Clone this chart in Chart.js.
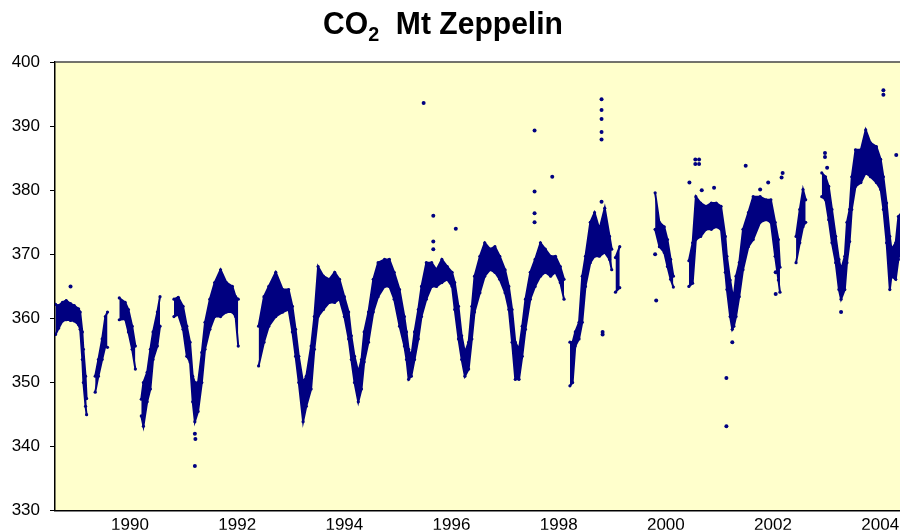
<!DOCTYPE html>
<html>
<head>
<meta charset="utf-8">
<script src="https://cdn.jsdelivr.net/npm/chart.js@4/dist/chart.umd.min.js"></script>
<style>
    body { margin: 0; background: #fff; }
    #cadre { position: relative; width: 900px; height: 531px; }
    #titre {
        position: absolute; left: 0; top: 5px; width: 886px; text-align: center;
        font: bold 32px "Liberation Sans", Arial, sans-serif; color: #000;
        transform: scaleX(0.94); transform-origin: 443px 0;
    }
    #titre sub { font-size: 21px; vertical-align: -7px; line-height: 0; }
</style>
</head>
<body>
<div id="cadre">
    <canvas id="graphique-co2" width="900" height="531"></canvas>
    <div id="titre">CO<sub>2</sub>&nbsp;&nbsp;Mt Zeppelin</div>
</div>
<script>
// Lecture de la bande de mesures : pour chaque date, le bas et le haut du nuage de points (ppm)
// null = trou dans les mesures
const annees = [
    1988.61, 1988.67, 1988.74, 1988.81, 1988.89, 1988.96, 1989.04, 1989.07, 1989.11, 1989.13, 1989.17, 1989.19,
    1989.26,
    1989.35, 1989.41, 1989.48, 1989.54, 1989.58,
    1989.70,
    1989.80, 1989.91, 1989.97, 1990.04, 1990.10,
    1990.15,
    1990.21, 1990.25, 1990.32, 1990.38, 1990.43, 1990.51, 1990.56,
    1990.69,
    1990.82, 1990.90, 1990.99, 1991.06, 1991.12, 1991.17, 1991.21, 1991.27, 1991.34, 1991.40, 1991.49, 1991.58,
    1991.69, 1991.80, 1991.91, 1991.97, 1992.02,
    1992.20,
    1992.40, 1992.50, 1992.59, 1992.72, 1992.85, 1992.96, 1993.03, 1993.09, 1993.15, 1993.23, 1993.29, 1993.38,
    1993.44, 1993.51, 1993.61, 1993.72, 1993.82, 1993.91, 1994.00, 1994.08, 1994.13, 1994.19, 1994.26, 1994.32,
    1994.37, 1994.45, 1994.54, 1994.63, 1994.75, 1994.84, 1994.93, 1995.03, 1995.12, 1995.16, 1995.20, 1995.25,
    1995.31, 1995.38, 1995.44, 1995.53, 1995.63, 1995.72, 1995.82, 1995.92, 1996.01, 1996.06, 1996.13, 1996.19,
    1996.25, 1996.32, 1996.38, 1996.43, 1996.53, 1996.62, 1996.72, 1996.81, 1996.90, 1997.00, 1997.07, 1997.13,
    1997.19, 1997.26, 1997.32, 1997.38, 1997.47, 1997.56, 1997.66, 1997.75, 1997.85, 1997.94, 1998.03, 1998.10,
    1998.14,
    1998.21, 1998.26, 1998.31, 1998.38, 1998.44, 1998.50, 1998.59, 1998.67, 1998.76, 1998.86, 1998.95, 1998.99,
    1999.02,
    1999.06, 1999.14,
    1999.45,
    1999.80, 1999.88, 1999.97, 2000.03, 2000.09, 2000.14,
    2000.29,
    2000.43, 2000.50, 2000.56, 2000.65, 2000.75, 2000.85, 2000.94, 2001.03, 2001.11, 2001.14, 2001.20, 2001.24,
    2001.27, 2001.31, 2001.37, 2001.44, 2001.54, 2001.63, 2001.76, 2001.87, 2001.96, 2002.04, 2002.10, 2002.13,
    2002.25,
    2002.43, 2002.50, 2002.56, 2002.61,
    2002.75,
    2002.91, 2002.98, 2003.04, 2003.10, 2003.17, 2003.23, 2003.27, 2003.34, 2003.38, 2003.43, 2003.47, 2003.54,
    2003.64, 2003.73, 2003.82, 2003.93, 2004.01, 2004.06, 2004.12, 2004.18, 2004.21, 2004.29, 2004.34, 2004.40
];

const co2Bas = [
    357.5, 358.5, 359.6, 359.8, 359.7, 359.6, 359.0, 358.3, 353.6, 350.0, 346.3, 345.0,
    null,
    348.5, 351.0, 353.6, 355.7, 355.5,
    null,
    359.8, 359.9, 357.9, 355.2, 352.1,
    null,
    344.8, 343.2, 347.0, 349.0, 353.6, 355.7, 358.8,
    null,
    360.3, 360.6, 358.3, 354.1, 353.2, 347.0, 343.9, 345.5, 350.0, 355.2, 358.3, 360.3,
    360.3, 361.0, 361.0, 360.3, 355.7,
    null,
    352.6, 356.3, 358.8, 360.3, 361.0, 361.4, 357.9, 354.1, 350.0, 343.9, 346.3, 349.0,
    355.2, 360.3, 361.4, 362.5, 362.5, 363.0, 360.3, 356.8, 353.6, 350.0, 347.0, 349.0,
    353.2, 356.3, 361.0, 363.4, 365.0, 365.0, 363.0, 358.8, 355.7, 353.6, 350.5, 351.0,
    353.6, 356.8, 360.3, 363.0, 365.0, 365.0, 365.6, 366.1, 365.0, 361.4, 356.8, 353.6,
    351.0, 352.1, 356.8, 361.0, 364.0, 366.6, 367.6, 367.2, 366.1, 364.0, 361.4, 356.3,
    350.5, 350.5, 354.1, 358.3, 363.0, 365.0, 366.6, 367.2, 366.6, 367.2, 365.6, 363.0,
    null,
    349.5, 350.0, 355.7, 356.8, 359.4, 365.0, 368.7, 369.7, 369.7, 370.3, 369.2, 367.6,
    null,
    364.1, 364.8,
    null,
    373.9, 371.2, 370.3, 368.1, 366.1, 364.9,
    null,
    365.0, 365.5, 372.3, 372.8, 373.9, 373.9, 374.3, 373.9, 367.2, 364.5, 360.3, 358.3,
    358.8, 360.3, 363.4, 367.6, 371.2, 372.3, 375.0, 375.4, 375.0, 369.7, 366.0, 364.1,
    null,
    368.7, 371.8, 374.3, 375.0,
    null,
    379.0, 378.5, 375.4, 371.8, 368.7, 364.5, 363.0, 364.5, 368.7, 372.0, 377.0, 380.6,
    381.2, 382.7, 382.1, 381.2, 380.1, 377.0, 371.8, 364.5, 366.6, 366.1, 369.2, 371.8
];

const co2Haut = [
    362.2, 362.0, 362.5, 362.8, 362.3, 362.0, 361.5, 361.0, 357.9, 355.2, 351.0, 347.5,
    null,
    351.0, 353.6, 356.8, 360.3, 361.0,
    null,
    363.2, 362.5, 361.4, 358.8, 355.7,
    null,
    347.4, 350.0, 351.6, 355.2, 357.9, 361.0, 363.4,
    null,
    363.0, 363.3, 361.9, 358.8, 356.3, 351.0, 350.0, 350.0, 354.7, 359.4, 363.0, 365.6,
    367.6, 365.6, 365.0, 363.4, 363.0,
    null,
    358.8, 363.4, 365.0, 367.2, 364.5, 364.5, 361.9, 358.3, 354.1, 350.0, 351.0, 355.7,
    360.3, 368.1, 366.6, 366.1, 367.2, 366.1, 363.4, 361.0, 357.3, 354.1, 351.6, 353.6,
    357.9, 361.0, 366.1, 368.7, 369.2, 369.2, 367.2, 364.5, 360.3, 357.9, 355.2, 354.1,
    357.9, 361.4, 365.0, 368.7, 368.7, 367.6, 369.2, 368.1, 367.2, 365.6, 361.9, 357.3,
    354.7, 356.3, 361.9, 366.6, 369.7, 371.8, 370.8, 371.2, 369.7, 367.6, 365.0, 361.4,
    356.3, 355.2, 358.8, 363.0, 367.2, 369.2, 371.8, 370.8, 369.7, 369.7, 368.1, 366.1,
    null,
    356.3, 356.3, 357.9, 359.4, 366.6, 369.7, 375.0, 376.5, 373.9, 377.2, 372.8, 370.8,
    null,
    369.5, 371.2,
    null,
    379.6, 375.0, 374.3, 372.3, 369.2, 366.6,
    null,
    369.0, 371.8, 379.0, 378.0, 377.5, 378.0, 378.0, 377.5, 372.8, 369.7, 366.0, 364.0,
    363.5, 366.6, 368.7, 373.9, 376.5, 379.0, 379.0, 378.5, 378.5, 375.0, 372.3, 368.0,
    null,
    372.8, 377.0, 380.1, 378.5,
    null,
    382.7, 382.1, 380.6, 377.0, 372.8, 369.2, 367.6, 369.7, 375.0, 377.0, 382.1, 386.3,
    386.3, 389.4, 387.4, 386.8, 384.8, 382.1, 378.0, 372.8, 370.8, 371.8, 375.9, 376.5
];

// Points isolés hors de la bande
const isolesAnnees = [
    1988.89, 1991.21, 1991.22, 1991.21, 1995.48, 1995.66, 1995.66, 1995.66, 1996.08, 1997.55,
    1997.55, 1997.55, 1997.55, 1997.88, 1998.80, 1998.80, 1998.80, 1998.80, 1998.80, 1998.80,
    1998.82, 1998.82, 1999.82, 1999.80, 2000.44, 2000.55, 2000.55, 2000.62, 2000.62, 2000.67,
    2000.90, 2001.13, 2001.13, 2001.24, 2001.49, 2001.76, 2001.91, 2002.16, 2002.18, 2002.05,
    2002.05, 2002.97, 2002.97, 2003.01, 2003.27, 2004.06, 2004.06, 2004.30
];
const isolesCo2 = [
    365.0, 342.0, 341.2, 337.0, 393.6, 376.0, 372.0, 370.8, 374.0, 389.3,
    379.8, 376.4, 375.0, 382.1, 394.2, 392.5, 391.1, 389.1, 387.9, 378.2,
    357.9, 357.5, 362.8, 370.0, 381.2, 384.8, 384.1, 384.8, 384.1, 380.0,
    380.4, 350.7, 343.2, 356.3, 383.8, 380.1, 381.2, 382.0, 382.7, 367.2,
    363.8, 385.8, 385.2, 383.5, 361.0, 395.6, 394.9, 385.5
];

const graduationsAnnees = [1990, 1992, 1994, 1996, 1998, 2000, 2002, 2004];
const graduationsCo2 = [330, 340, 350, 360, 370, 380, 390, 400];

const bleuMarine = "#000080";
const policeAxes = { family: "'Liberation Sans', Arial, sans-serif", size: 17 };

// Fond jaune pâle de la zone de tracé + trait du haut
const fondZone = {
    id: "fondZone",
    beforeDraw(chart) {
        const { ctx, chartArea } = chart;
        ctx.save();
        ctx.fillStyle = "#FFFFCC";
        ctx.fillRect(chartArea.left, chartArea.top, chartArea.right - chartArea.left, chartArea.bottom - chartArea.top);
        ctx.restore();
    },
    afterDraw(chart) {
        const { ctx, chartArea } = chart;
        ctx.save();
        ctx.strokeStyle = "#444";
        ctx.lineWidth = 1.5;
        ctx.beginPath();
        ctx.moveTo(chartArea.left, chartArea.top);
        ctx.lineTo(chartArea.right, chartArea.top);
        ctx.stroke();
        ctx.restore();
    }
};

const data = {
    datasets: [
        {
            label: "haut",
            data: annees.map((x, i) => ({ x: x, y: co2Haut[i] })),
            borderColor: bleuMarine,
            backgroundColor: bleuMarine,
            borderWidth: 2,
            pointRadius: 1.6,
            pointBorderWidth: 0,
            tension: 0,
            fill: false
        },
        {
            label: "bas",
            data: annees.map((x, i) => ({ x: x, y: co2Bas[i] })),
            borderColor: bleuMarine,
            backgroundColor: bleuMarine,
            borderWidth: 2,
            pointRadius: 1.6,
            pointBorderWidth: 0,
            tension: 0,
            fill: "-1"
        },
        {
            type: "scatter",
            label: "isolés",
            data: isolesAnnees.map((x, i) => ({ x: x, y: isolesCo2[i] })),
            backgroundColor: bleuMarine,
            borderWidth: 0,
            pointRadius: 2
        }
    ]
};

const config = {
    type: "line",
    data: data,
    plugins: [fondZone],
    options: {
        responsive: false,
        animation: false,
        devicePixelRatio: 1,
        layout: { autoPadding: false, padding: { top: 62, right: 0, bottom: 0, left: 0 } },
        plugins: { legend: { display: false }, tooltip: { enabled: false } },
        scales: {
            x: {
                type: "linear",
                min: 1988.6,
                max: 2004.37,
                afterBuildTicks: (scale) => { scale.ticks = graduationsAnnees.map(v => ({ value: v })); },
                afterFit: (scale) => { scale.height = 19; scale.paddingRight = 0; scale.paddingLeft = 0; },
                grid: { display: false, drawTicks: false },
                border: { display: true, color: "#000", width: 1.5 },
                ticks: { color: "#000", font: policeAxes, padding: 4, autoSkip: false, maxRotation: 0,
                         callback: (v) => String(v) }
            },
            y: {
                min: 330,
                max: 400,
                afterBuildTicks: (scale) => { scale.ticks = graduationsCo2.map(v => ({ value: v })); },
                afterFit: (scale) => { scale.width = 55; },
                grid: { display: true, drawOnChartArea: false, drawTicks: true, tickLength: 5, color: "#000" },
                border: { display: true, color: "#000", width: 1.5 },
                ticks: { color: "#000", font: policeAxes, padding: 10 }
            }
        }
    }
};

const graphiqueCo2 = new Chart(document.querySelector("#graphique-co2"), config);
</script>
</body>
</html>
